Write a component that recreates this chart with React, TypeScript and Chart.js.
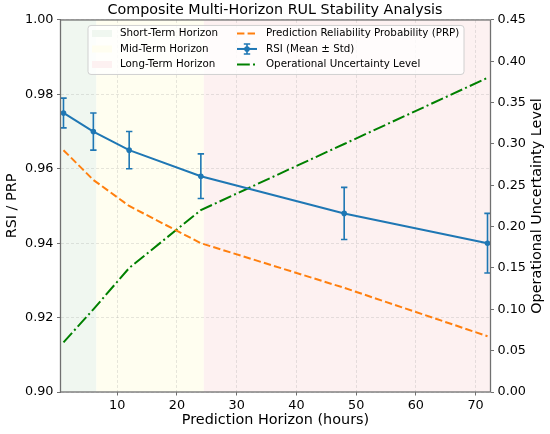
import React, { useEffect, useRef } from "react";
import { Chart, registerables } from "chart.js";

Chart.register(...registerables);

// ---- data ----
const horizons = [1, 6, 12, 24, 48, 72];
const rsiMean = [0.975, 0.97, 0.965, 0.958, 0.948, 0.94];
const rsiStd = [0.004, 0.005, 0.005, 0.006, 0.007, 0.008];
const prpValues = [0.965, 0.957, 0.95, 0.94, 0.928, 0.915];
const uncertaintyValues = [0.06, 0.1, 0.15, 0.22, 0.3, 0.38];

const spanStarts = [0.5, 6.5, 24.5];
const spanEnds = [6.5, 24.5, 72.5];
const spanLabels = ["Short-Term Horizon", "Mid-Term Horizon", "Long-Term Horizon"];

const xTicks = [10, 20, 30, 40, 50, 60, 70];
const leftTicks = [0.9, 0.92, 0.94, 0.96, 0.98, 1.0];
const rightTicks = [0, 0.05, 0.1, 0.15, 0.2, 0.25, 0.3, 0.35, 0.4, 0.45];

const TITLE = "Composite Multi-Horizon RUL Stability Analysis";
const X_TITLE = "Prediction Horizon (hours)";
const Y_TITLE = "RSI / PRP";
const Y1_TITLE = "Operational Uncertainty Level";
const PRP_LABEL = "Prediction Reliability Probability (PRP)";
const RSI_LABEL = "RSI (Mean ± Std)";
const UNC_LABEL = "Operational Uncertainty Level";

// ---- styles ----
const FONT = "'DejaVu Sans', sans-serif";
const BLUE = "#1f77b4";
const ORANGE = "#ff7f0e";
const GREEN = "#008000";
const SPAN_COLORS = ["#f0f7f0", "#fffef0", "#fdf1f1"];
const GRID = "rgba(150,150,150,0.3)";
const SPINE = "#707070";
const PRP_DASH = [7.4, 3.2];
const UNC_DASH = [12.8, 3.2, 2, 3.2];
const LABEL_SIZE = 14.4;
const TICK_SIZE = 12.8;
const LEGEND_SIZE = 10.3;

const spansPlugin = {
  id: "spans",
  beforeDraw(chart: any) {
    const { ctx, chartArea, scales } = chart;
    const xs = scales.x;
    ctx.save();
    ctx.beginPath();
    ctx.rect(chartArea.left, chartArea.top, chartArea.right - chartArea.left, chartArea.bottom - chartArea.top);
    ctx.clip();
    for (let i = 0; i < spanStarts.length; i++) {
      const a = xs.getPixelForValue(spanStarts[i]);
      const b = xs.getPixelForValue(spanEnds[i]);
      ctx.fillStyle = SPAN_COLORS[i];
      ctx.fillRect(a, chartArea.top, b - a, chartArea.bottom - chartArea.top);
    }
    ctx.restore();
  },
};

function drawErrorBar(ctx: any, x: number, yTop: number, yBot: number, cap: number) {
  ctx.beginPath();
  ctx.moveTo(x, yTop);
  ctx.lineTo(x, yBot);
  ctx.moveTo(x - cap, yTop);
  ctx.lineTo(x + cap, yTop);
  ctx.moveTo(x - cap, yBot);
  ctx.lineTo(x + cap, yBot);
  ctx.stroke();
}

const errorBarPlugin = {
  id: "errorBars",
  afterDatasetsDraw(chart: any) {
    const { ctx, scales } = chart;
    const xs = scales.x;
    const ys = scales.y;
    ctx.save();
    ctx.strokeStyle = BLUE;
    ctx.lineWidth = 1.6;
    for (let i = 0; i < horizons.length; i++) {
      const x = xs.getPixelForValue(horizons[i]);
      const yt = ys.getPixelForValue(rsiMean[i] + rsiStd[i]);
      const yb = ys.getPixelForValue(rsiMean[i] - rsiStd[i]);
      drawErrorBar(ctx, x, yt, yb, 3.2);
    }
    ctx.restore();
  },
};

const decorPlugin = {
  id: "decor",
  afterDraw(chart: any) {
    const { ctx, chartArea } = chart;
    const { left, right, top, bottom } = chartArea;
    ctx.save();
    // frame
    ctx.strokeStyle = SPINE;
    ctx.lineWidth = 1.3;
    ctx.strokeRect(left, top, right - left, bottom - top);

    // right axis title (reads bottom-to-top)
    ctx.fillStyle = "#000";
    ctx.font = `${LABEL_SIZE}px ${FONT}`;
    ctx.textAlign = "center";
    ctx.textBaseline = "middle";
    ctx.save();
    ctx.translate(537.5, (top + bottom) / 2);
    ctx.rotate(-Math.PI / 2);
    ctx.fillText(Y1_TITLE, 0, 0);
    ctx.restore();

    // legend
    const lx = left + 27.5;
    const ly = top + 5.5;
    const lw = 376;
    const lh = 49;
    ctx.beginPath();
    ctx.roundRect(lx, ly, lw, lh, 3);
    ctx.fillStyle = "rgba(255,255,255,0.8)";
    ctx.fill();
    ctx.strokeStyle = "#d0d0d0";
    ctx.lineWidth = 1;
    ctx.stroke();

    const rows = [ly + 8, ly + 23.5, ly + 39];
    ctx.font = `${LEGEND_SIZE}px ${FONT}`;
    ctx.textAlign = "left";
    ctx.textBaseline = "middle";
    const h1 = lx + 4;
    const t1 = h1 + 28;
    for (let i = 0; i < spanLabels.length; i++) {
      ctx.fillStyle = SPAN_COLORS[i];
      ctx.fillRect(h1, rows[i] - 3.5, 20, 7);
      ctx.fillStyle = "#000";
      ctx.fillText(spanLabels[i], t1, rows[i]);
    }
    const h2 = lx + 149;
    const t2 = h2 + 29;
    // PRP
    ctx.strokeStyle = ORANGE;
    ctx.lineWidth = 2;
    ctx.setLineDash(PRP_DASH);
    ctx.beginPath();
    ctx.moveTo(h2, rows[0]);
    ctx.lineTo(h2 + 20, rows[0]);
    ctx.stroke();
    // RSI
    ctx.setLineDash([]);
    ctx.strokeStyle = BLUE;
    ctx.beginPath();
    ctx.moveTo(h2, rows[1]);
    ctx.lineTo(h2 + 20, rows[1]);
    ctx.stroke();
    ctx.lineWidth = 1.6;
    drawErrorBar(ctx, h2 + 10, rows[1] - 5, rows[1] + 5, 3.2);
    ctx.fillStyle = BLUE;
    ctx.beginPath();
    ctx.arc(h2 + 10, rows[1], 2.8, 0, Math.PI * 2);
    ctx.fill();
    // Uncertainty
    ctx.strokeStyle = GREEN;
    ctx.lineWidth = 2;
    ctx.setLineDash(UNC_DASH);
    ctx.beginPath();
    ctx.moveTo(h2, rows[2]);
    ctx.lineTo(h2 + 20, rows[2]);
    ctx.stroke();
    ctx.setLineDash([]);
    ctx.fillStyle = "#000";
    ctx.fillText(PRP_LABEL, t2, rows[0]);
    ctx.fillText(RSI_LABEL, t2, rows[1]);
    ctx.fillText(UNC_LABEL, t2, rows[2]);
    ctx.restore();
  },
};

export default function App() {
  const canvasRef = useRef<HTMLCanvasElement | null>(null);

  useEffect(() => {
    document.body.style.margin = "0";
    const canvas = canvasRef.current;
    if (!canvas) return;

    const toPoints = (ys: number[]) => horizons.map((x, i) => ({ x, y: ys[i] }));

    const tickFont = { family: FONT, size: TICK_SIZE };
    const titleFont = { family: FONT, size: LABEL_SIZE };

    const chart = new Chart(canvas, {
      type: "line",
      data: {
        datasets: [
          {
            label: PRP_LABEL,
            data: toPoints(prpValues),
            yAxisID: "y",
            borderColor: ORANGE,
            backgroundColor: ORANGE,
            borderWidth: 2,
            borderDash: PRP_DASH,
            pointRadius: 0,
            tension: 0,
            fill: false,
          },
          {
            label: RSI_LABEL,
            data: toPoints(rsiMean),
            yAxisID: "y",
            borderColor: BLUE,
            backgroundColor: BLUE,
            borderWidth: 2,
            pointRadius: 2.8,
            pointBorderWidth: 0,
            pointBackgroundColor: BLUE,
            tension: 0,
            fill: false,
          },
          {
            label: UNC_LABEL,
            data: toPoints(uncertaintyValues),
            yAxisID: "y1",
            borderColor: GREEN,
            backgroundColor: GREEN,
            borderWidth: 2,
            borderDash: UNC_DASH,
            pointRadius: 0,
            tension: 0,
            fill: false,
          },
        ],
      },
      options: {
        responsive: false,
        animation: false,
        devicePixelRatio: 1,
        layout: { padding: 0 },
        plugins: {
          legend: { display: false },
          tooltip: { enabled: false },
          title: {
            display: true,
            text: TITLE,
            color: "#000",
            font: { family: FONT, size: 14.3, weight: "normal" },
            padding: { top: 2, bottom: 0.8 },
          },
        },
        scales: {
          x: {
            type: "linear",
            min: 0.5,
            max: 72.5,
            afterBuildTicks: (scale: any) => {
              scale.ticks = xTicks.map((v) => ({ value: v }));
            },
            afterFit: (scale: any) => {
              scale.height = 42;
            },
            ticks: {
              color: "#000",
              font: tickFont,
              padding: 2,
              maxRotation: 0,
              autoSkip: false,
              callback: (v: any) => String(v),
            },
            grid: {
              color: GRID,
              lineWidth: 0.8,
              tickColor: SPINE,
              tickLength: 3.5,
              tickWidth: 1,
            },
            border: { display: false, dash: [3, 2] },
            title: {
              display: true,
              text: X_TITLE,
              color: "#000",
              font: titleFont,
              padding: { top: 0, bottom: 5 },
            },
          },
          y: {
            type: "linear",
            position: "left",
            min: 0.9,
            max: 1.0,
            afterBuildTicks: (scale: any) => {
              scale.ticks = leftTicks.map((v) => ({ value: v }));
            },
            afterFit: (scale: any) => {
              scale.width = 60.5;
            },
            ticks: {
              color: "#000",
              font: tickFont,
              padding: 3.5,
              autoSkip: false,
              callback: (v: any) => Number(v).toFixed(2),
            },
            grid: {
              color: GRID,
              lineWidth: 0.8,
              tickColor: SPINE,
              tickLength: 3.5,
              tickWidth: 1,
            },
            border: { display: false, dash: [3, 2] },
            title: {
              display: true,
              text: Y_TITLE,
              color: "#000",
              font: titleFont,
              padding: { top: 3.4, bottom: 0 },
            },
          },
          y1: {
            type: "linear",
            position: "right",
            min: 0,
            max: 0.45,
            afterBuildTicks: (scale: any) => {
              scale.ticks = rightTicks.map((v) => ({ value: v }));
            },
            afterFit: (scale: any) => {
              scale.width = 59.5;
            },
            ticks: {
              color: "#000",
              font: tickFont,
              padding: 3.5,
              autoSkip: false,
              callback: (v: any) => Number(v).toFixed(2),
            },
            grid: {
              drawOnChartArea: false,
              tickColor: SPINE,
              tickLength: 3.5,
              tickWidth: 1,
            },
            border: { display: false },
          },
        },
      },
      plugins: [spansPlugin, errorBarPlugin, decorPlugin],
    } as any);

    return () => chart.destroy();
  }, []);

  return (
    <div style={{ width: 550, height: 434 }}>
      <canvas ref={canvasRef} width={550} height={434} style={{ width: 550, height: 434, display: "block" }} />
    </div>
  );
}
